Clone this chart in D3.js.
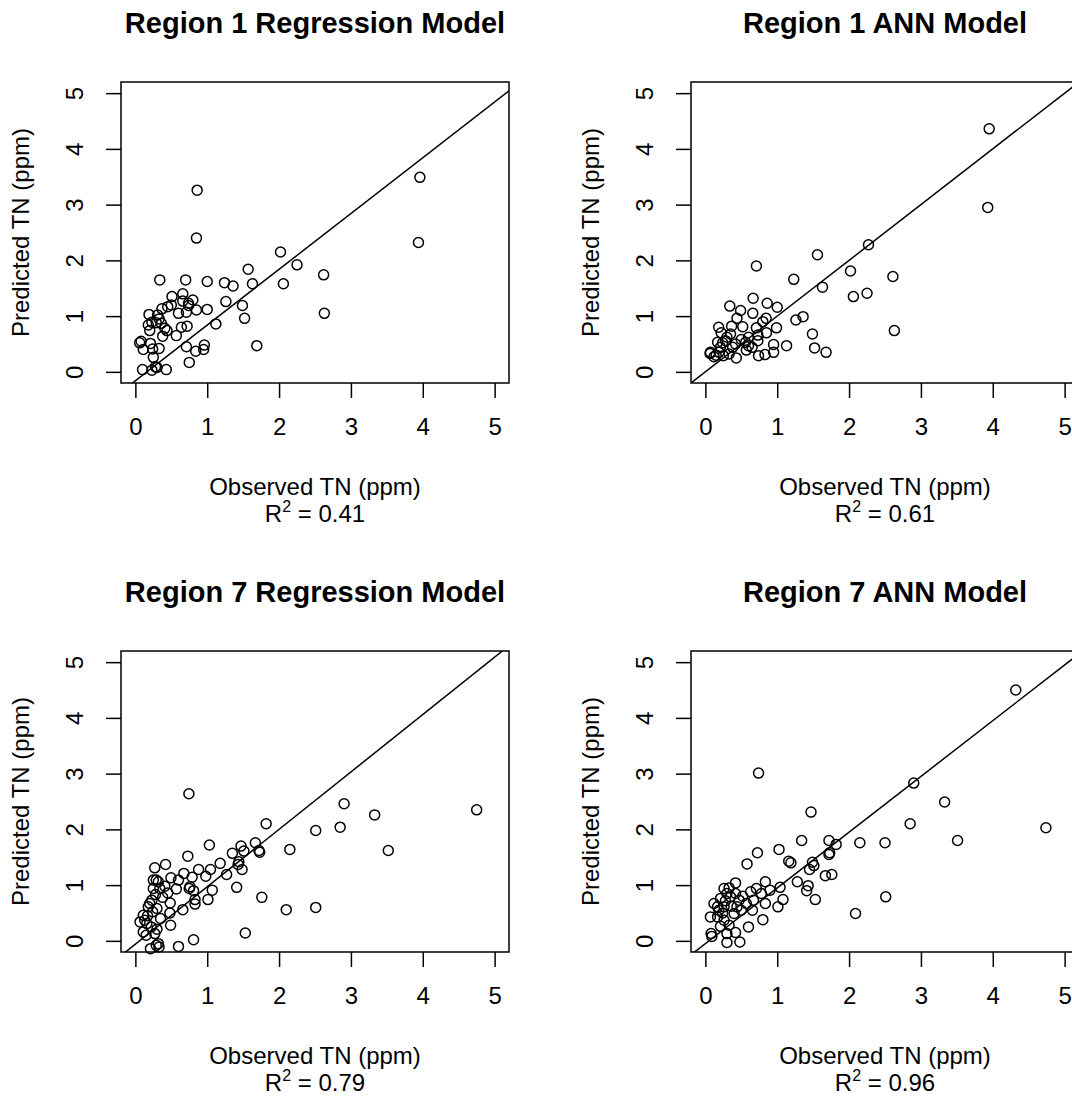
<!DOCTYPE html>
<html>
<head>
<meta charset="utf-8">
<script src="https://cdn.jsdelivr.net/npm/d3@7"></script>
<style>
  body { margin: 0; background: #fff; }
  svg { display: block; }
  text { font-family: "Liberation Sans", Arial, Helvetica, sans-serif; fill: #000; }
</style>
</head>
<body>
<svg id="chart"></svg>
<script>
// panel texts
const titles = ["Region 1 Regression Model", "Region 1 ANN Model", "Region 7 Regression Model", "Region 7 ANN Model"];
const r2Values = ["0.41", "0.61", "0.79", "0.96"];
const xLabel = "Observed TN (ppm)";
const yLabel = "Predicted TN (ppm)";
const tickValues = [0, 1, 2, 3, 4, 5];
// reference line per panel: [intercept, slope]
const refLines = [[-0.16, 1.0], [0, 1.0], [-0.06, 1.03], [-0.05, 1.0]];

// Region 1, regression
const r1RegObs = [3.96,0.86,0.85,3.94,2.02,2.25,1.57,2.62,0.34,0.70,1.00,1.24,1.36,1.63,2.06,2.63,1.69,1.49,1.52,1.26,1.12,1.00,0.85,0.96,0.95,0.84,0.71,0.75,0.72,0.64,0.66,0.80,0.74,0.71,0.60,0.66,0.51,0.50,0.45,0.37,0.19,0.33,0.36,0.18,0.23,0.20,0.44,0.38,0.57,0.41,0.08,0.06,0.21,0.11,0.24,0.33,0.25,0.10,0.23,0.28,0.43,0.30,0.74,0.29,0.31];
const r1RegPred = [3.49,3.26,2.40,2.32,2.15,1.92,1.84,1.74,1.65,1.65,1.62,1.60,1.54,1.58,1.58,1.05,0.47,1.19,0.96,1.26,0.86,1.12,1.11,0.48,0.40,0.37,0.45,0.17,0.82,0.80,1.40,1.29,1.19,1.07,1.05,1.27,1.35,1.20,1.17,1.13,1.03,0.95,0.87,0.84,0.89,0.74,0.74,0.64,0.65,0.78,0.55,0.52,0.51,0.40,0.41,0.42,0.26,0.04,0.03,0.09,0.04,0.08,1.23,0.88,1.02];

// Region 1, ANN
const r1AnnObs = [3.95,3.93,2.27,1.56,0.71,2.02,1.23,2.61,1.63,2.06,2.25,0.665,0.34,0.86,1.00,0.49,0.66,0.44,0.845,0.80,1.26,1.36,2.63,0.185,0.365,0.52,0.71,0.99,0.85,0.73,1.49,0.60,0.35,0.22,0.17,0.28,0.42,0.56,0.73,0.95,1.13,1.52,1.68,0.95,0.83,0.74,0.65,0.57,0.43,0.07,0.12,0.19,0.25,0.33,0.38,0.21,0.30,0.065,0.24,0.15,0.50,0.60];
const r1AnnPred = [4.36,2.95,2.28,2.10,1.90,1.81,1.66,1.71,1.52,1.35,1.41,1.32,1.18,1.23,1.16,1.10,1.05,0.96,0.96,0.90,0.93,0.99,0.74,0.80,0.82,0.81,0.79,0.79,0.70,0.66,0.68,0.62,0.68,0.70,0.53,0.56,0.50,0.53,0.56,0.49,0.47,0.43,0.35,0.35,0.31,0.29,0.44,0.39,0.25,0.35,0.27,0.35,0.29,0.32,0.44,0.44,0.62,0.33,0.52,0.30,0.58,0.47];

// Region 7, regression
const r7RegObs = [4.75,0.745,2.905,3.33,1.82,2.51,2.85,2.15,3.52,1.03,0.73,1.47,1.67,1.73,1.72,1.35,1.51,1.44,1.43,1.485,1.18,1.27,1.045,0.88,0.98,1.07,1.41,1.76,1.01,2.10,2.51,1.53,0.81,0.60,0.42,0.27,0.675,0.79,0.495,0.57,0.75,0.81,0.83,0.83,0.66,0.485,0.48,0.49,0.25,0.32,0.34,0.25,0.20,0.18,0.30,0.11,0.065,0.16,0.11,0.15,0.27,0.32,0.29,0.21,0.33,0.60,0.76,0.29,0.23,0.13,0.22,0.38,0.41,0.28,0.17,0.35,0.24,0.45,0.30];
const r7RegPred = [2.35,2.64,2.46,2.26,2.10,1.98,2.04,1.64,1.62,1.72,1.52,1.70,1.76,1.59,1.62,1.57,1.61,1.42,1.37,1.28,1.39,1.19,1.28,1.28,1.16,0.91,0.96,0.78,0.74,0.56,0.60,0.14,0.02,-0.10,1.37,1.31,1.21,1.14,1.13,0.93,0.94,0.90,0.66,0.74,0.56,0.68,0.50,0.28,1.09,1.06,0.94,0.94,0.67,0.61,0.58,0.46,0.34,0.31,0.16,0.10,0.13,-0.05,-0.08,-0.14,-0.11,1.09,0.97,1.09,0.73,0.37,0.25,0.78,0.98,0.83,0.45,0.40,0.52,0.86,0.21];

// Region 7, ANN
const r7AnnObs = [4.32,0.74,2.90,3.33,1.47,2.85,4.74,3.51,1.34,1.72,1.82,2.15,2.50,1.025,0.725,1.72,1.73,1.16,1.19,1.49,1.51,1.45,0.58,1.67,1.76,1.28,1.43,1.41,1.53,1.04,1.08,1.01,2.51,2.09,0.835,0.80,0.60,0.48,0.30,0.09,0.08,0.42,0.26,0.71,0.78,0.90,0.67,0.835,0.655,0.50,0.47,0.35,0.21,0.17,0.26,0.07,0.17,0.26,0.33,0.21,0.40,0.42,0.30,0.57,0.42,0.30,0.12,0.44,0.24,0.36,0.28,0.52,0.63,0.33,0.19];
const r7AnnPred = [4.50,3.01,2.83,2.49,2.31,2.10,2.03,1.80,1.80,1.80,1.73,1.76,1.76,1.64,1.58,1.55,1.58,1.43,1.40,1.41,1.35,1.28,1.38,1.17,1.19,1.06,0.99,0.90,0.74,0.96,0.74,0.61,0.79,0.49,1.06,0.38,0.25,-0.02,-0.03,0.08,0.13,1.04,0.94,0.94,0.85,0.91,0.73,0.67,0.55,0.55,0.73,0.79,0.76,0.61,0.61,0.43,0.43,0.37,0.28,0.26,0.49,0.15,0.13,0.67,0.85,0.85,0.67,0.61,0.50,0.62,0.72,0.80,0.88,0.95,0.55];

const panelObs = [r1RegObs, r1AnnObs, r7RegObs, r7AnnObs];
const panelPred = [r1RegPred, r1AnnPred, r7RegPred, r7AnnPred];

// layout
const w = 1072;
const h = 1097;
const plotW = 388;
const plotH = 301;
const firstLeft = 121;
const firstTop = 82;
const colStep = 570;
const rowStep = 569;
const domain = [-0.2, 5.2];
const lw = 1.5;
const fontFam = "'Liberation Sans', Arial, sans-serif";

const svg = d3.select("#chart")
  .attr("width", w)
  .attr("height", h)
  .style("background", "white");

titles.forEach((title, i) => {
  const left = firstLeft + (i % 2) * colStep;
  const top = firstTop + Math.floor(i / 2) * rowStep;

  const xScale = d3.scaleLinear().domain(domain).range([0, plotW]);
  const yScale = d3.scaleLinear().domain(domain).range([plotH, 0]);

  const g = svg.append("g")
    .attr("transform", `translate(${left}, ${top})`);

  g.append("clipPath")
    .attr("id", "clip" + i)
    .append("rect")
    .attr("width", plotW)
    .attr("height", plotH);

  // x axis
  const xAxis = g.append("g")
    .attr("transform", `translate(0, ${plotH})`)
    .call(d3.axisBottom(xScale).tickValues(tickValues).tickFormat(d3.format("d")).tickSize(15).tickSizeOuter(0));
  xAxis.select(".domain").remove();
  xAxis.selectAll("line").attr("stroke-width", lw);
  xAxis.selectAll("text")
    .attr("y", 52)
    .attr("dy", null)
    .attr("font-size", 24)
    .style("font-family", fontFam);

  // y axis
  const yAxis = g.append("g")
    .call(d3.axisLeft(yScale).tickValues(tickValues).tickFormat(d3.format("d")).tickSize(15).tickSizeOuter(0));
  yAxis.select(".domain").remove();
  yAxis.selectAll("line").attr("stroke-width", lw);
  yAxis.selectAll("text")
    .attr("x", null)
    .attr("dy", null)
    .attr("text-anchor", "middle")
    .attr("transform", "translate(-38, 0) rotate(-90)")
    .attr("font-size", 24)
    .style("font-family", fontFam);

  // reference line
  const line = refLines[i];
  g.append("line")
    .attr("clip-path", `url(#clip${i})`)
    .attr("x1", xScale(domain[0]))
    .attr("y1", yScale(line[0] + line[1] * domain[0]))
    .attr("x2", xScale(domain[1]))
    .attr("y2", yScale(line[0] + line[1] * domain[1]))
    .attr("stroke", "black")
    .attr("stroke-width", lw);

  // points
  const pts = panelObs[i].map((d, j) => ({obs: d, pred: panelPred[i][j]}));
  g.selectAll("circle")
    .data(pts)
    .enter()
    .append("circle")
    .attr("cx", d => xScale(d.obs))
    .attr("cy", d => yScale(d.pred))
    .attr("r", 5)
    .attr("fill", "none")
    .attr("stroke", "black")
    .attr("stroke-width", lw);

  // box
  g.append("rect")
    .attr("width", plotW)
    .attr("height", plotH)
    .attr("fill", "none")
    .attr("stroke", "black")
    .attr("stroke-width", lw);

  // title
  g.append("text")
    .attr("x", plotW / 2)
    .attr("y", -49)
    .attr("text-anchor", "middle")
    .attr("font-size", 29)
    .attr("font-weight", "bold")
    .text(title);

  // axis titles
  g.append("text")
    .attr("x", plotW / 2)
    .attr("y", plotH + 112)
    .attr("text-anchor", "middle")
    .attr("font-size", 24)
    .text(xLabel);

  const r2 = g.append("text")
    .attr("x", plotW / 2)
    .attr("y", plotH + 139)
    .attr("text-anchor", "middle")
    .attr("font-size", 24);
  r2.append("tspan").text("R");
  r2.append("tspan").attr("dy", -10).attr("font-size", 16).text("2");
  r2.append("tspan").attr("dy", 10).text(" = " + r2Values[i]);

  g.append("text")
    .attr("transform", `translate(-92, ${plotH / 2}) rotate(-90)`)
    .attr("text-anchor", "middle")
    .attr("font-size", 24)
    .text(yLabel);
});
</script>
</body>
</html>
